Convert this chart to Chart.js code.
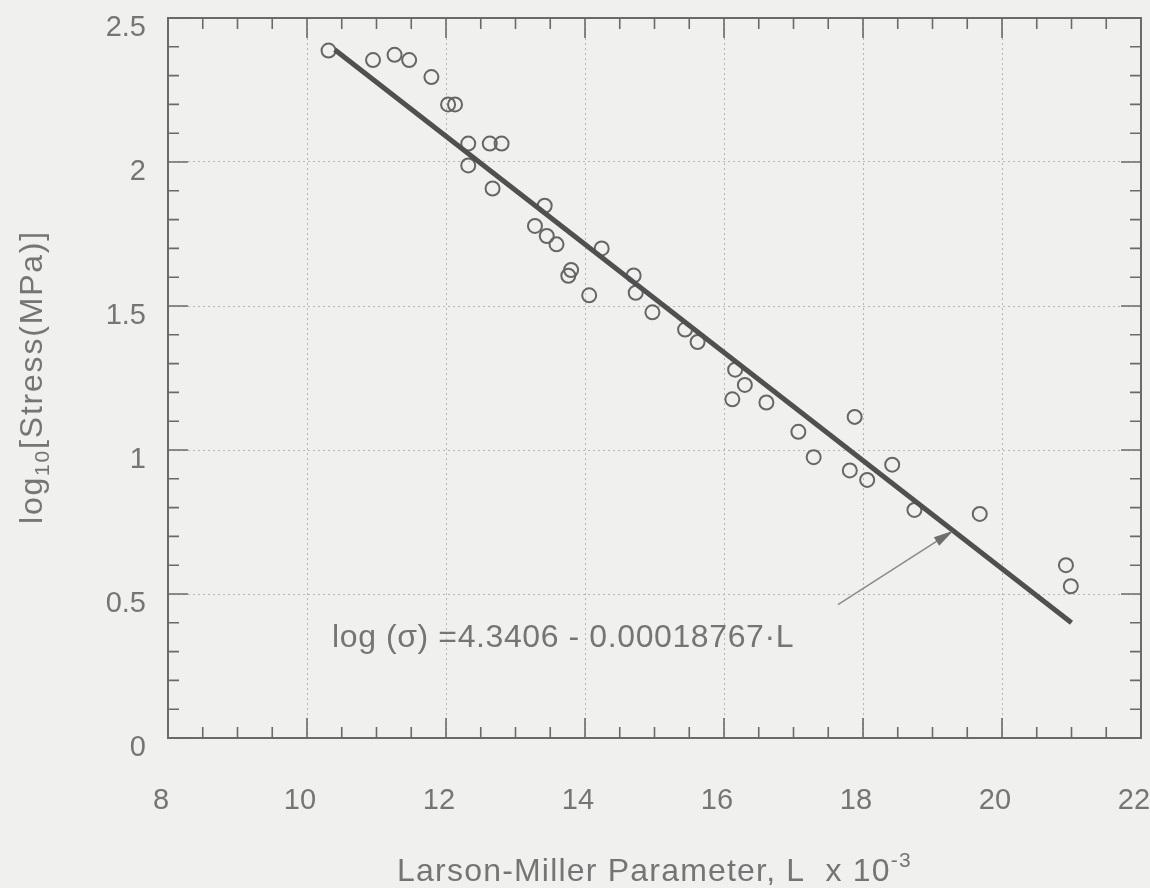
<!DOCTYPE html>
<html>
<head>
<meta charset="utf-8">
<script src="https://cdn.jsdelivr.net/npm/chart.js@4.4.0/dist/chart.umd.min.js"></script>
<style>
html, body { margin: 0; padding: 0; background: #f0f0ee; }
#wrap { width: 1150px; height: 888px; }
</style>
</head>
<body>
<div id="wrap"><canvas id="lmChart" width="1150" height="888"></canvas></div>
<script>
// Larson-Miller parameter (x 10^-3) and log10 stress
const larsonMiller = [10.31, 10.95, 11.26, 11.47, 11.79, 12.03, 12.13, 12.32, 12.32, 12.63,
    12.80, 12.67, 13.42, 13.28, 13.45, 13.59, 13.80, 13.76, 14.06, 14.24,
    14.70, 14.73, 14.97, 15.44, 15.62, 16.16, 16.30, 16.12, 16.61, 17.07,
    17.88, 17.29, 17.81, 18.06, 18.42, 18.74, 19.68, 20.92, 20.99];
const logStress = [2.387, 2.354, 2.372, 2.354, 2.295, 2.200, 2.200, 2.064, 1.988, 2.064,
    2.064, 1.908, 1.848, 1.778, 1.743, 1.714, 1.625, 1.605, 1.537, 1.700,
    1.606, 1.546, 1.478, 1.418, 1.375, 1.279, 1.226, 1.176, 1.165, 1.063,
    1.115, 0.975, 0.929, 0.896, 0.949, 0.792, 0.778, 0.600, 0.527];

// fitted line end points
const fitL = [10.4, 21.0];
const fitLogStress = [2.39, 0.40];

const xTickValues = [8, 10, 12, 14, 16, 18, 20, 22];
const yTickValues = [0, 0.5, 1, 1.5, 2, 2.5];

const equationLabel = 'log (\u03c3) =4.3406 - 0.00018767\u00b7L';
const xTitle = 'Larson-Miller Parameter, L  x 10';
const xTitleSup = '-3';
const yTitleMain = 'log';
const yTitleSub = '10';
const yTitleRest = '[Stress(MPa)]';

const FONT = '"Liberation Sans", Arial, Helvetica, sans-serif';
const INK = '#757575';
const FRAME = '#6a6a6a';

function drawParts(ctx, parts, x, y) {
    let w = 0;
    parts.forEach(p => { ctx.font = p.size + 'px ' + FONT; w += ctx.measureText(p.text).width; });
    let cx = x - w / 2;
    parts.forEach(p => {
        ctx.font = p.size + 'px ' + FONT;
        ctx.fillText(p.text, cx, y + (p.dy || 0));
        cx += ctx.measureText(p.text).width;
    });
}

const boxPlugin = {
    id: 'boxPlugin',
    beforeDatasetsDraw(chart) {
        const { ctx, chartArea: a, scales: { x, y } } = chart;
        ctx.save();
        ctx.strokeStyle = FRAME;
        ctx.lineWidth = 2;
        ctx.strokeRect(a.left, a.top, a.right - a.left, a.bottom - a.top);

        ctx.lineWidth = 1.6;
        ctx.beginPath();
        for (let v = x.min; v <= x.max + 1e-9; v += 0.5) {
            const px = x.getPixelForValue(v);
            const len = xTickValues.includes(Math.round(v * 10) / 10) ? 20 : 11;
            ctx.moveTo(px, a.bottom); ctx.lineTo(px, a.bottom - len);
            ctx.moveTo(px, a.top); ctx.lineTo(px, a.top + len);
        }
        for (let v = y.min; v <= y.max + 1e-9; v += 0.1) {
            const py = y.getPixelForValue(v);
            const r = Math.round(v * 10) / 10;
            const len = yTickValues.includes(r) ? 20 : 11;
            ctx.moveTo(a.left, py); ctx.lineTo(a.left + len, py);
            ctx.moveTo(a.right, py); ctx.lineTo(a.right - len, py);
        }
        ctx.stroke();
        ctx.restore();
    },
    afterDatasetsDraw(chart) {
        const { ctx, chartArea: a, scales: { x, y } } = chart;
        ctx.save();
        // arrow pointing at the fitted line
        const x1 = x.getPixelForValue(17.64), y1 = y.getPixelForValue(0.463);
        const x2 = x.getPixelForValue(19.3), y2 = y.getPixelForValue(0.72);
        const ang = Math.atan2(y2 - y1, x2 - x1);
        ctx.strokeStyle = '#8a8a8a';
        ctx.lineWidth = 1.5;
        ctx.beginPath(); ctx.moveTo(x1, y1); ctx.lineTo(x2 - 14 * Math.cos(ang), y2 - 14 * Math.sin(ang)); ctx.stroke();
        ctx.fillStyle = '#6e6e6e';
        ctx.beginPath();
        ctx.moveTo(x2, y2);
        ctx.lineTo(x2 - 20 * Math.cos(ang) + 5 * Math.sin(ang), y2 - 20 * Math.sin(ang) - 5 * Math.cos(ang));
        ctx.lineTo(x2 - 20 * Math.cos(ang) - 5 * Math.sin(ang), y2 - 20 * Math.sin(ang) + 5 * Math.cos(ang));
        ctx.closePath(); ctx.fill();

        // equation
        ctx.fillStyle = INK;
        ctx.textBaseline = 'alphabetic';
        ctx.textAlign = 'left';
        ctx.letterSpacing = '0.6px';
        ctx.font = '32px ' + FONT;
        ctx.fillText(equationLabel, x.getPixelForValue(10.36), y.getPixelForValue(0.316));

        // x title
        ctx.letterSpacing = '1.2px';
        drawParts(ctx, [{ text: xTitle, size: 32 }, { text: xTitleSup, size: 21, dy: -14 }],
            (a.left + a.right) / 2, 881);

        // y title
        ctx.letterSpacing = '1.8px';
        ctx.translate(42, 377);
        ctx.rotate(-Math.PI / 2);
        drawParts(ctx, [{ text: yTitleMain, size: 32 }, { text: yTitleSub, size: 21, dy: 7 },
            { text: yTitleRest, size: 32 }], 0, 0);
        ctx.restore();
    }
};

new Chart(document.getElementById('lmChart'), {
    data: {
        datasets: [{
            type: 'line',
            data: fitL.map((v, i) => ({ x: v, y: fitLogStress[i] })),
            borderColor: '#505050',
            borderWidth: 5,
            pointRadius: 0,
            fill: false
        }, {
            type: 'scatter',
            data: larsonMiller.map((v, i) => ({ x: v, y: logStress[i] })),
            pointStyle: 'circle',
            pointRadius: 7,
            borderWidth: 2,
            borderColor: '#666',
            backgroundColor: 'rgba(0,0,0,0)'
        }]
    },
    options: {
        responsive: false,
        animation: false,
        devicePixelRatio: 1,
        layout: { padding: { top: 18, right: 9, left: 0, bottom: 0 } },
        plugins: { legend: { display: false }, tooltip: { enabled: false } },
        scales: {
            x: {
                type: 'linear', min: 8, max: 22,
                afterFit: s => { s.height = 150; s.paddingLeft = 0; s.paddingRight = 0; },
                afterBuildTicks: s => { s.ticks = xTickValues.map(v => ({ value: v })); },
                grid: { color: '#b5b5b5', lineWidth: 1, drawTicks: false },
                border: { display: false, dash: [2, 3] },
                ticks: { color: INK, font: { family: FONT, size: 29 }, padding: 46, labelOffset: -7,
                    callback: v => String(v) }
            },
            y: {
                type: 'linear', min: 0, max: 2.5,
                afterFit: s => { s.width = 168; s.paddingTop = 0; s.paddingBottom = 0; },
                afterBuildTicks: s => { s.ticks = yTickValues.map(v => ({ value: v })); },
                grid: { color: '#b5b5b5', lineWidth: 1, drawTicks: false },
                border: { display: false, dash: [2, 3] },
                ticks: { color: INK, font: { family: FONT, size: 29 }, padding: 22, labelOffset: 10,
                    callback: v => String(v) }
            }
        }
    },
    plugins: [boxPlugin]
});
</script>
</body>
</html>
